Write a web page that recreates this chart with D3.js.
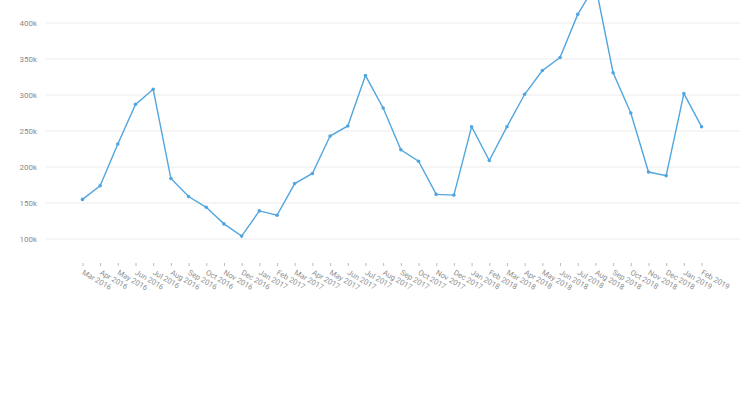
<!DOCTYPE html>
<html>
<head>
<meta charset="utf-8">
<script src="https://cdn.jsdelivr.net/npm/d3@7"></script>
<style>
  html, body { margin: 0; padding: 0; background: #fff; }
  svg { display: block; font-family: Roboto, "Noto Sans", sans-serif; }
</style>
</head>
<body>
<svg id="chart" width="740" height="400"></svg>
<script>
const months = ["Mar 2016","Apr 2016","May 2016","Jun 2016","Jul 2016","Aug 2016","Sep 2016","Oct 2016","Nov 2016","Dec 2016",
  "Jan 2017","Feb 2017","Mar 2017","Apr 2017","May 2017","Jun 2017","Jul 2017","Aug 2017","Sep 2017","Oct 2017","Nov 2017","Dec 2017",
  "Jan 2018","Feb 2018","Mar 2018","Apr 2018","May 2018","Jun 2018","Jul 2018","Aug 2018","Sep 2018","Oct 2018","Nov 2018","Dec 2018",
  "Jan 2019","Feb 2019"];
const values = [155000,174000,232000,287000,308000,184000,159000,144000,121000,104000,
  139000,133000,177000,191000,243000,257000,327000,282000,224000,208000,162000,161000,
  256000,209000,256000,301000,334000,352000,412000,453000,331000,275000,193000,188000,
  302000,256000];
const yTicks = [100000,150000,200000,250000,300000,350000,400000];

const svg = d3.select("#chart");
const left = 46, right = 740;

const x = d3.scalePoint().domain(months).range([left, 738]).padding(2.06);
const y = d3.scaleLinear().domain([100000, 400000]).range([239, 23]);

// grid
svg.append("g").selectAll("line").data(yTicks).join("line")
  .attr("x1", left).attr("x2", right)
  .attr("y1", d => y(d)).attr("y2", d => y(d))
  .attr("stroke", "#f2f2f2").attr("stroke-width", 1.5);

// y labels
svg.append("g").selectAll("text").data(yTicks).join("text")
  .attr("x", 37).attr("y", d => y(d))
  .attr("dy", "0.35em")
  .attr("text-anchor", "end")
  .attr("font-size", 8)
  .attr("fill", "#8a8a8a")
  .text(d => d3.format("d")(d / 1000) + "k");

// x axis
const xAxis = d3.axisBottom(x).tickSize(3).tickPadding(0);
const gx = svg.append("g").attr("transform", "translate(0,263)").call(xAxis);
gx.select(".domain").remove();
gx.selectAll(".tick line").attr("stroke", "#bbb");
gx.selectAll(".tick text")
  .attr("font-size", 7.6)
  .attr("fill", "#8f8f8f")
  .attr("font-family", "Roboto, 'Noto Sans', sans-serif")
  .attr("text-anchor", "start")
  .attr("dy", null)
  .attr("y", 0)
  .attr("transform", "translate(-1.5,11) rotate(30)");

// line
const line = d3.line().x((d, i) => x(months[i])).y(d => y(d));
svg.append("path").datum(values)
  .attr("fill", "none")
  .attr("stroke", "#52a6df")
  .attr("stroke-width", 1.4)
  .attr("d", line);

svg.append("g").selectAll("circle").data(values).join("circle")
  .attr("cx", (d, i) => x(months[i]))
  .attr("cy", d => y(d))
  .attr("r", 1.8)
  .attr("fill", "#52a6df");
</script>
</body>
</html>
